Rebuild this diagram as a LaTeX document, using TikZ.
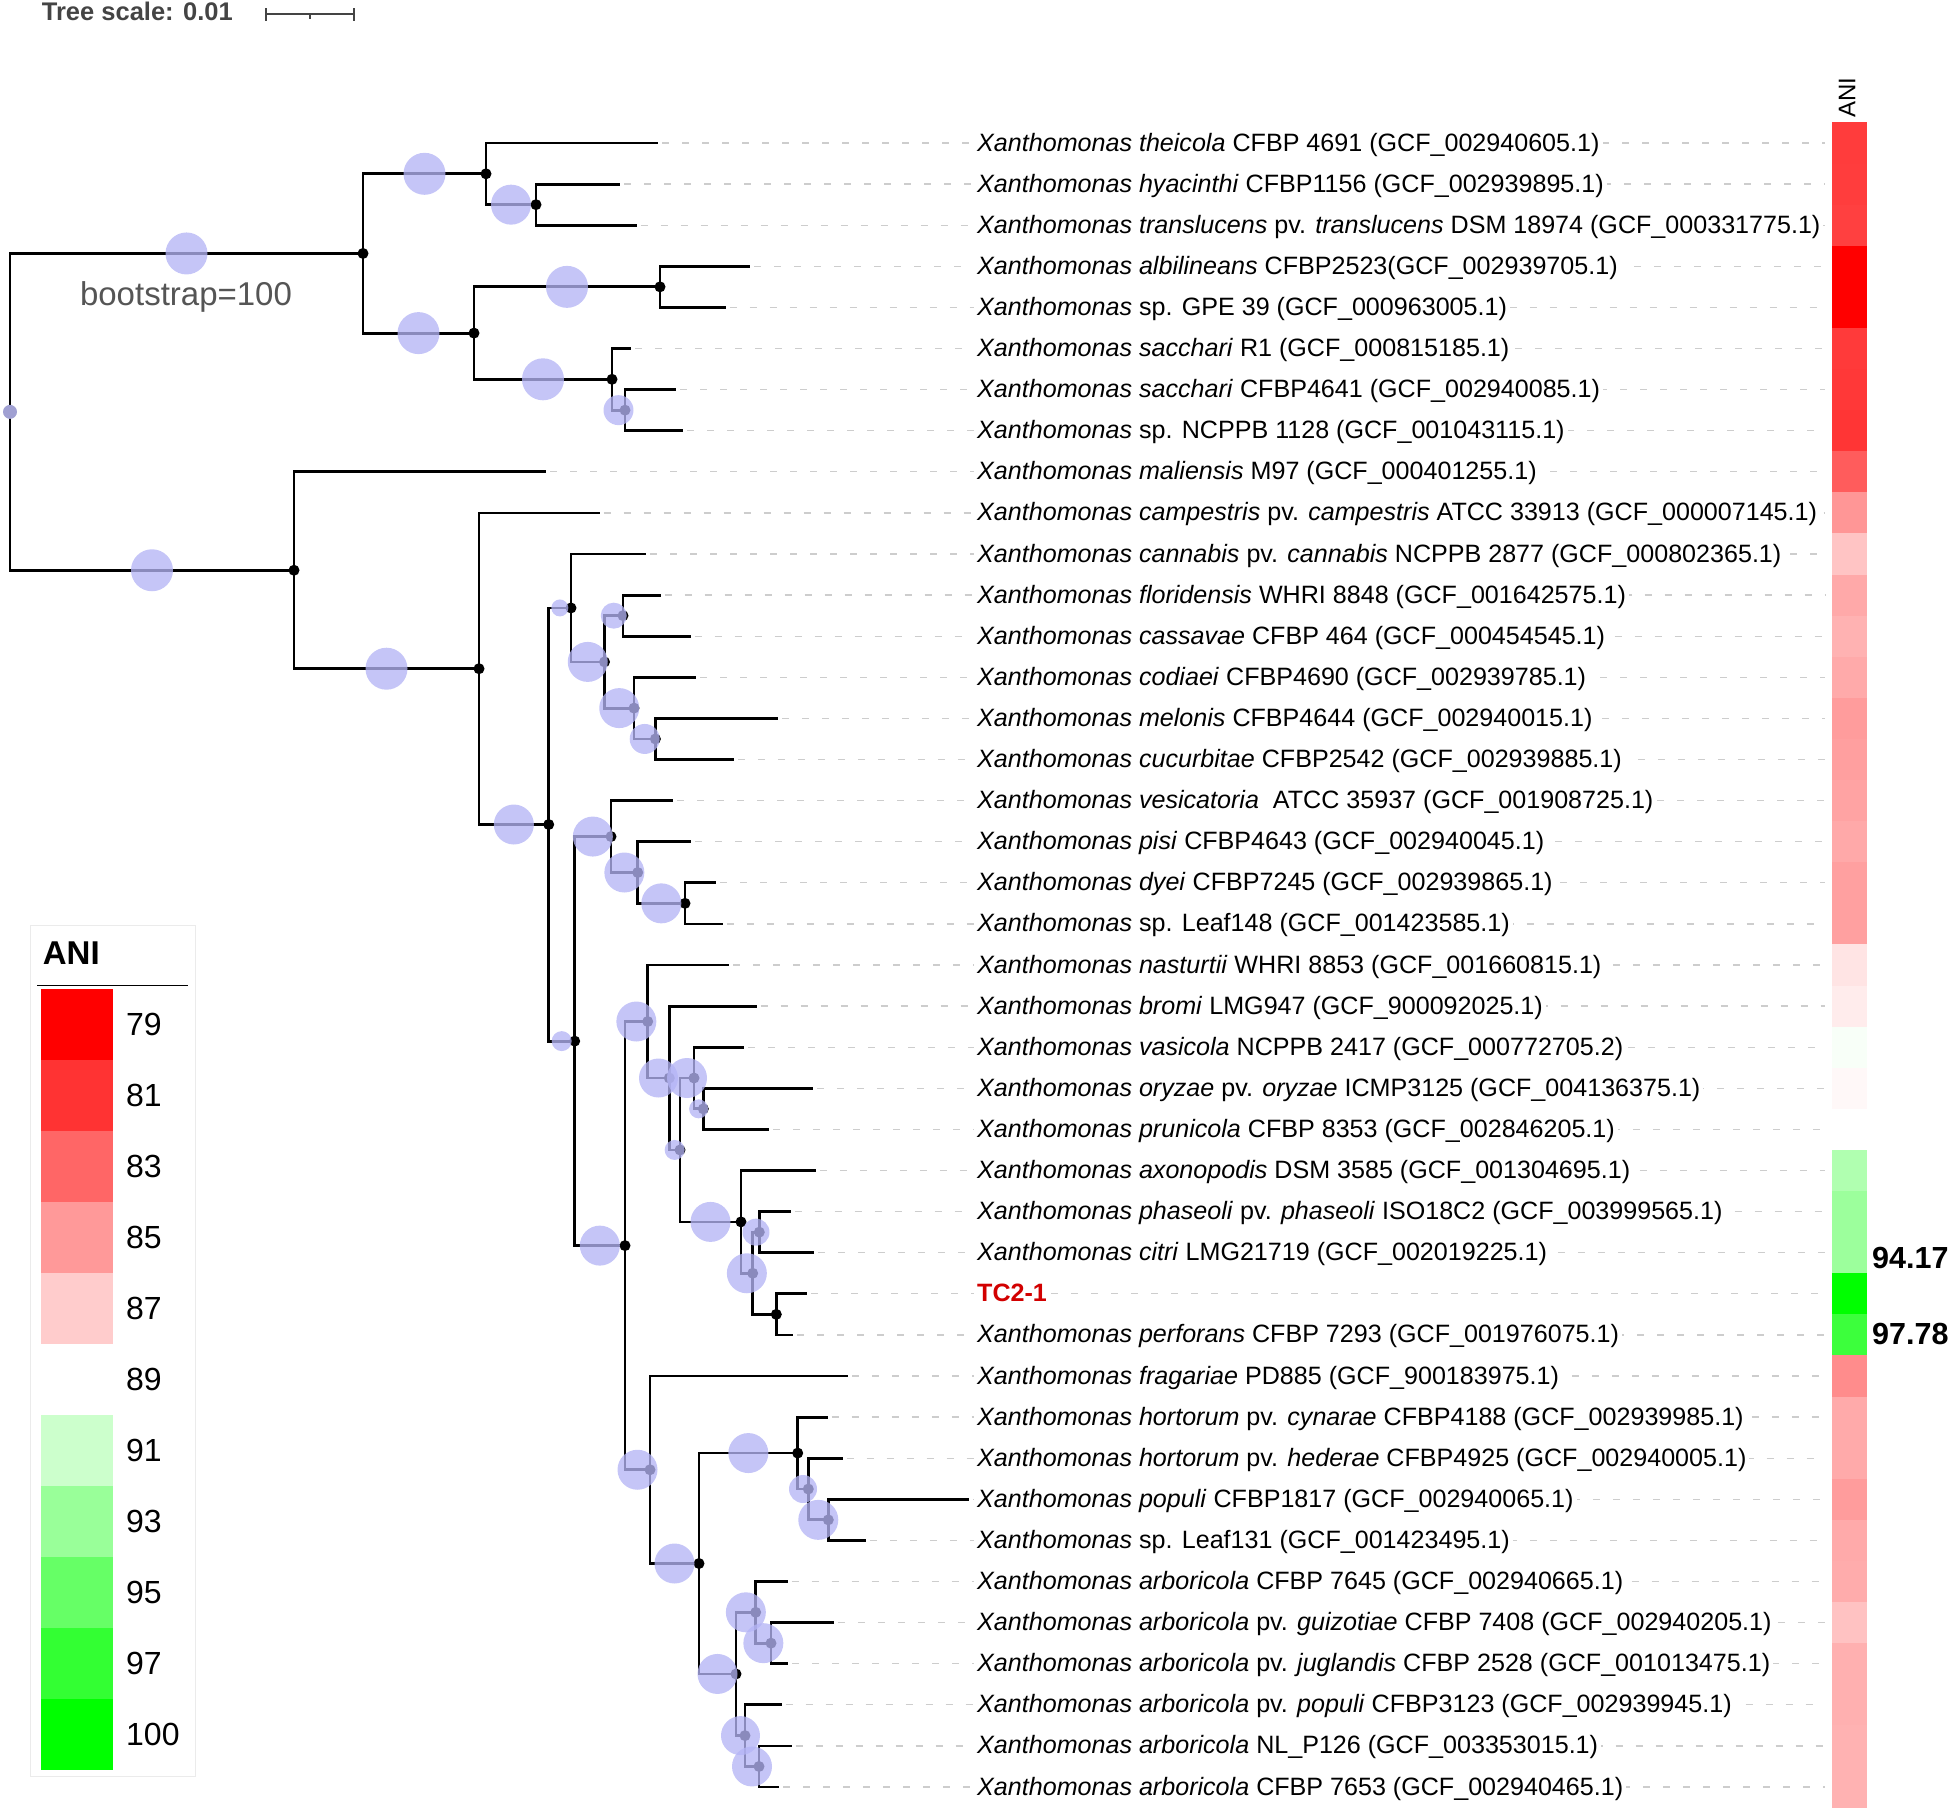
\documentclass[tikz,border=0pt]{standalone}
\usepackage{fontspec}
\setmainfont{Liberation Sans}
\usetikzlibrary{calc}
\definecolor{bsfill}{RGB}{180,180,245}
\definecolor{rootc}{RGB}{160,160,210}
\definecolor{dashgray}{RGB}{205,205,205}
\definecolor{tcred}{RGB}{210,0,0}
\definecolor{scalegray}{RGB}{68,68,68}
\definecolor{bootgray}{RGB}{85,85,85}
\definecolor{legframe}{RGB}{235,235,235}
\newcommand\fsz[1]{\fontsize{#1}{#1}\selectfont}
\begin{document}
\begin{tikzpicture}[x=1pt,y=-1pt,
  branch/.style={line width=2.8pt, line join=miter},
  guide/.style={draw=dashgray, line width=1.3pt, dash pattern=on 7pt off 13pt},
  lab/.style={anchor=base west, fill=white, inner xsep=3pt, inner ysep=1pt, font={\fsz{25.1}}},
  bs/.style={fill=bsfill, fill opacity=0.77},
  nodedot/.style={fill=black},
  scalebar/.style={draw=scalegray, line width=1.7pt}]
\useasboundingbox (0,0) rectangle (1955,1810);

% ---------- tree scale ----------
\node[anchor=base west, inner sep=0, font={\fsz{25.5}\bfseries}, text=scalegray] (tsl) at (41.7,20.7) {Tree scale: 0.01};
\coordinate (sbL) at (266,14.3);
\coordinate (sbR) at (354,14.3);
\coordinate (sbM) at (310,14.3);
\draw[scalebar] (sbL) -- (sbR);
\draw[scalebar] (266,8.3) -- (266,21);
\draw[scalebar] (354,8.3) -- (354,21);
\draw[scalebar] (sbM) -- (310,18.5);

% ---------- leaves, guides, labels ----------
\foreach \i/\xe/\txt in {
 1/658/{\textit{Xanthomonas theicola} CFBP 4691 (GCF\_002940605.1)},
 2/620/{\textit{Xanthomonas hyacinthi} CFBP1156 (GCF\_002939895.1)},
 3/636.5/{\textit{Xanthomonas translucens} pv. \textit{translucens} DSM 18974 (GCF\_000331775.1)},
 4/750/{\textit{Xanthomonas albilineans} CFBP2523(GCF\_002939705.1)},
 5/725.6/{\textit{Xanthomonas} sp. GPE 39 (GCF\_000963005.1)},
 6/631/{\textit{Xanthomonas sacchari} R1 (GCF\_000815185.1)},
 7/676/{\textit{Xanthomonas sacchari} CFBP4641 (GCF\_002940085.1)},
 8/683/{\textit{Xanthomonas} sp. NCPPB 1128 (GCF\_001043115.1)},
 9/546/{\textit{Xanthomonas maliensis} M97 (GCF\_000401255.1)},
 10/599.6/{\textit{Xanthomonas campestris} pv. \textit{campestris} ATCC 33913 (GCF\_000007145.1)},
 11/646/{\textit{Xanthomonas cannabis} pv. \textit{cannabis} NCPPB 2877 (GCF\_000802365.1)},
 12/660.7/{\textit{Xanthomonas floridensis} WHRI 8848 (GCF\_001642575.1)},
 13/690.7/{\textit{Xanthomonas cassavae} CFBP 464 (GCF\_000454545.1)},
 14/696/{\textit{Xanthomonas codiaei} CFBP4690 (GCF\_002939785.1)},
 15/778/{\textit{Xanthomonas melonis} CFBP4644 (GCF\_002940015.1)},
 16/734/{\textit{Xanthomonas cucurbitae} CFBP2542 (GCF\_002939885.1)},
 17/673.3/{\textit{Xanthomonas vesicatoria}\ \ ATCC 35937 (GCF\_001908725.1)},
 18/691.3/{\textit{Xanthomonas pisi} CFBP4643 (GCF\_002940045.1)},
 19/716/{\textit{Xanthomonas dyei} CFBP7245 (GCF\_002939865.1)},
 20/722.7/{\textit{Xanthomonas} sp. Leaf148 (GCF\_001423585.1)},
 21/729/{\textit{Xanthomonas nasturtii} WHRI 8853 (GCF\_001660815.1)},
 22/756.7/{\textit{Xanthomonas bromi} LMG947 (GCF\_900092025.1)},
 23/744.3/{\textit{Xanthomonas vasicola} NCPPB 2417 (GCF\_000772705.2)},
 24/813.3/{\textit{Xanthomonas oryzae} pv. \textit{oryzae} ICMP3125 (GCF\_004136375.1)},
 25/769/{\textit{Xanthomonas prunicola} CFBP 8353 (GCF\_002846205.1)},
 26/815.7/{\textit{Xanthomonas axonopodis} DSM 3585 (GCF\_001304695.1)},
 27/790.7/{\textit{Xanthomonas phaseoli} pv. \textit{phaseoli} ISO18C2 (GCF\_003999565.1)},
 28/814/{\textit{Xanthomonas citri} LMG21719 (GCF\_002019225.1)},
 29/807/{\textcolor{tcred}{\bfseries TC2-1}},
 30/793.3/{\textit{Xanthomonas perforans} CFBP 7293 (GCF\_001976075.1)},
 31/848.3/{\textit{Xanthomonas fragariae} PD885 (GCF\_900183975.1)},
 32/827.7/{\textit{Xanthomonas hortorum} pv. \textit{cynarae} CFBP4188 (GCF\_002939985.1)},
 33/842.7/{\textit{Xanthomonas hortorum} pv. \textit{hederae} CFBP4925 (GCF\_002940005.1)},
 34/969.3/{\textit{Xanthomonas populi} CFBP1817 (GCF\_002940065.1)},
 35/865.7/{\textit{Xanthomonas} sp. Leaf131 (GCF\_001423495.1)},
 36/787.7/{\textit{Xanthomonas arboricola} CFBP 7645 (GCF\_002940665.1)},
 37/834/{\textit{Xanthomonas arboricola} pv. \textit{guizotiae} CFBP 7408 (GCF\_002940205.1)},
 38/788.3/{\textit{Xanthomonas arboricola} pv. \textit{juglandis} CFBP 2528 (GCF\_001013475.1)},
 39/781.7/{\textit{Xanthomonas arboricola} pv. \textit{populi} CFBP3123 (GCF\_002939945.1)},
 40/791.7/{\textit{Xanthomonas arboricola} NL\_P126 (GCF\_003353015.1)},
 41/779.3/{\textit{Xanthomonas arboricola} CFBP 7653 (GCF\_002940465.1)}}{
  \pgfmathsetmacro\yy{143+41.1*(\i-1)}
  \coordinate (l\i) at (\xe,\yy);
  \coordinate (g\i) at (\xe+4,\yy);
  \coordinate (d\i) at (1825,\yy);
  \draw[guide] (g\i) -- (d\i);
  \node[lab] (lab\i) at (974,\yy+8) {\txt};
}

% ---------- internal nodes ----------
\coordinate (root) at (10,411.85);
\coordinate (top) at (363,253.45);
\coordinate (t1) at (486,173.8);
\coordinate (t2) at (536,204.65);
\coordinate (t3) at (474,333.1);
\coordinate (t4) at (660,286.85);
\coordinate (t5) at (612,379.3);
\coordinate (t6) at (625,410.15);
\coordinate (A1) at (294,570.25);
\coordinate (A2) at (479,668.7);
\coordinate (nB) at (548.7,824.5);
\coordinate (a5) at (571,607.95);
\coordinate (a4) at (604.5,661.9);
\coordinate (a1) at (623,615.65);
\coordinate (a2) at (634,708.1);
\coordinate (a3) at (655.4,738.95);
\coordinate (nC) at (574.7,1041.1);
\coordinate (nD) at (611,836.55);
\coordinate (nE) at (637.7,872.5);
\coordinate (nF) at (685,903.35);
\coordinate (nP) at (625,1245.6);
\coordinate (nG) at (647.7,1021.5);
\coordinate (nH) at (669.3,1078);
\coordinate (nI) at (680,1149.95);
\coordinate (nK) at (694,1078);
\coordinate (nL) at (703.3,1108.85);
\coordinate (nJ) at (741,1221.9);
\coordinate (nN) at (752.7,1273.25);
\coordinate (nM) at (759.3,1232.15);
\coordinate (nO) at (776.3,1314.35);
\coordinate (nQ) at (650,1469.75);
\coordinate (nR) at (699,1563.5);
\coordinate (nS) at (797.7,1453.05);
\coordinate (nT) at (808.3,1489);
\coordinate (nU) at (828.3,1519.85);
\coordinate (nV) at (736,1673.95);
\coordinate (nW) at (755.7,1612.3);
\coordinate (nX) at (771,1643.15);
\coordinate (nY) at (745,1735.6);
\coordinate (nZ) at (759,1766.45);

% ---------- branches ----------
\foreach \p/\c in {root/top, root/A1, top/t1, top/t3,
  t1/l1, t1/t2, t2/l2, t2/l3,
  t3/t4, t3/t5, t4/l4, t4/l5, t5/l6, t5/t6, t6/l7, t6/l8,
  A1/l9, A1/A2, A2/l10, A2/nB, nB/a5, nB/nC,
  a5/l11, a5/a4, a4/a1, a4/a2, a1/l12, a1/l13, a2/l14, a2/a3, a3/l15, a3/l16,
  nC/nD, nC/nP, nD/l17, nD/nE, nE/l18, nE/nF, nF/l19, nF/l20,
  nP/nG, nP/nQ, nG/l21, nG/nH, nH/l22, nH/nI, nI/nK, nI/nJ,
  nK/l23, nK/nL, nL/l24, nL/l25,
  nJ/l26, nJ/nN, nN/nM, nN/nO, nM/l27, nM/l28, nO/l29, nO/l30,
  nQ/l31, nQ/nR, nR/nS, nR/nV, nS/l32, nS/nT, nT/l33, nT/nU, nU/l34, nU/l35,
  nV/nW, nV/nY, nW/l36, nW/nX, nX/l37, nX/l38, nY/l39, nY/nZ, nZ/l40, nZ/l41}{
  \draw[branch] (\p) |- (\c);
}

% ---------- node dots ----------
\foreach \n in {top,t1,t2,t3,t4,t5,t6,A1,A2,nB,a5,a4,a1,a2,a3,nC,nD,nE,nF,nP,nG,nH,nI,nK,nL,nJ,nN,nM,nO,nQ,nR,nS,nT,nU,nV,nW,nX,nY,nZ}{
  \fill[nodedot] (\n) circle (5.5pt);
}

% ---------- bootstrap circles ----------
\fill[rootc] (root) circle (7pt);
\foreach \p/\c/\rad in {root/top/21, root/A1/21, top/t1/21, top/t3/21, t1/t2/20,
  t3/t4/21, t3/t5/21, t5/t6/15,
  A1/A2/21, A2/nB/20, nB/a5/8.5, nB/nC/10, a5/a4/20, a4/a1/13, a4/a2/20, a2/a3/15,
  nC/nD/20, nC/nP/20, nD/nE/20, nE/nF/20, nP/nG/20, nP/nQ/20,
  nG/nH/19.5, nH/nI/10, nI/nK/20, nI/nJ/20, nK/nL/9.5, nJ/nN/20, nN/nM/13.5,
  nQ/nR/20, nR/nS/20, nR/nV/20, nS/nT/14, nT/nU/20,
  nV/nW/20, nV/nY/19.5, nW/nX/20, nY/nZ/20}{
  \fill[bs] ($(\p|-\c)!0.5!(\c)$) circle (\rad pt);
}

\node[anchor=base, inner sep=0, font={\fsz{33}}, text=bootgray] (bslab) at (186,305) {bootstrap=100};

% ---------- heat strip ----------
\node[rotate=90, inner sep=0, font={\fsz{24}}] (anitop) at (1847,97.5) {ANI};
\foreach \i/\col in {1/FF3C3C,2/FF3D3D,3/FF4040,4/FF0000,5/FF0000,6/FF3A3A,7/FF3838,8/FF3535,
  9/FF5C5C,10/FF9696,11/FFC4C4,12/FFA9A9,13/FFB2B2,14/FFAAAA,15/FF9C9C,16/FF9F9F,
  17/FFA3A3,18/FFA9A9,19/FFA0A0,20/FFA0A0,21/FFE4E4,22/FFECEC,23/F8FFF8,24/FFF8F8,
  25/FFFFFF,26/B0FFB0,27/9CFF9C,28/9CFF9C,29/00FF00,30/3CFF3C,31/FF8C8C,32/FFAAAA,
  33/FFAAAA,34/FF9C9C,35/FFAAAA,36/FFACAC,37/FFC2C2,38/FFB0B0,39/FFB0B0,40/FFB2B2,41/FFB2B2}{
  \pgfmathsetmacro\yy{143+41.1*(\i-1)}
  \definecolor{hc}{HTML}{\col}
  \fill[hc] (1832,\yy-20.6) rectangle (1867,\yy+20.6);
}
\node[anchor=base west, inner sep=0, font={\fsz{30.5}\bfseries}] (v1) at (1872,1268.5) {94.17};
\node[anchor=base west, inner sep=0, font={\fsz{30.5}\bfseries}] (v2) at (1872,1344.3) {97.78};

% ---------- legend ----------
\draw[legframe, line width=1pt] (30,925.5) rectangle (195.5,1776);
\node[anchor=base west, inner sep=0, font={\fsz{33}\bfseries}] (anih) at (42.7,964.3) {ANI};
\draw[line width=1.5pt] (37.3,985.3) -- (188.3,985.3);
\foreach \k/\v/\col in {0/79/FF0000,1/81/FF3333,2/83/FF6666,3/85/FF9999,4/87/FFCCCC,5/89/FFFFFF,
  6/91/CCFFCC,7/93/99FF99,8/95/66FF66,9/97/33FF33,10/100/00FF00}{
  \pgfmathsetmacro\yt{989.2+71*\k}
  \definecolor{lc}{HTML}{\col}
  \fill[lc] (41,\yt) rectangle (113.3,\yt+71);
  \node[anchor=base west, inner sep=0, font={\fsz{32}}] (leg\k) at (126,\yt+46) {\v};
}
\end{tikzpicture}
\end{document}
